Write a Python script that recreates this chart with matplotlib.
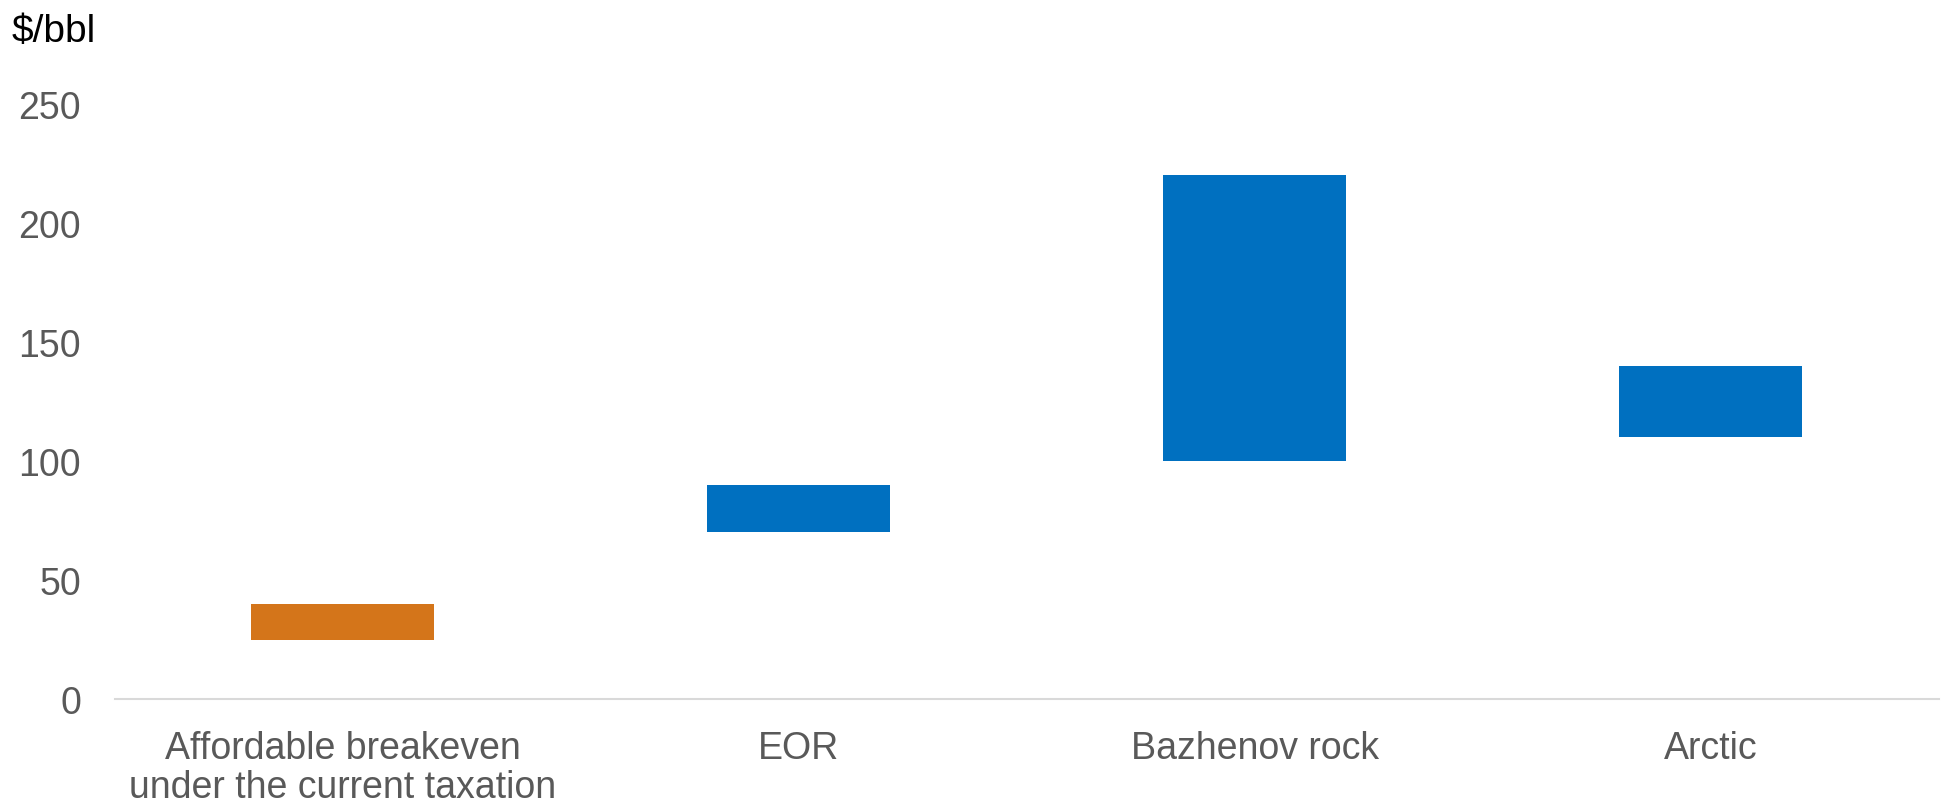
import matplotlib
matplotlib.use("Agg")
import matplotlib.pyplot as plt

categories = ["Affordable breakeven\nunder the current taxation", "EOR", "Bazhenov rock", "Arctic"]
low_values = [25, 70, 100, 110]
high_values = [40, 90, 220, 140]
bar_colors = ["#D4751A", "#0070C0", "#0070C0", "#0070C0"]
y_ticks = [0, 50, 100, 150, 200, 250]

plt.rcParams['font.family'] = ['Liberation Sans', 'DejaVu Sans']

fig = plt.figure(figsize=(19.42, 8.04), dpi=100)
ax = fig.add_axes([114.5 / 1942, 104 / 804, 1824 / 1942, 595 / 804])

x = list(range(len(categories)))
heights = [h - l for h, l in zip(high_values, low_values)]
ax.bar(x, heights, bottom=low_values, width=0.401, color=bar_colors)

ax.set_xlim(-0.5, len(categories) - 0.5)
ax.set_ylim(0, 250)
ax.set_yticks(y_ticks)
ax.set_xticks(x)
ax.set_xticklabels(categories)

for s in ["top", "right", "left"]:
    ax.spines[s].set_visible(False)
ax.spines["bottom"].set_color("#D9D9D9")
ax.spines["bottom"].set_linewidth(1.5)

ax.tick_params(axis="y", length=0, pad=24, labelsize=27, labelcolor="#595959")
ax.tick_params(axis="x", length=0, pad=22, labelsize=27, labelcolor="#595959")
for lbl in ax.get_xticklabels():
    lbl.set_linespacing(1.12)

fig.text(12 / 1942, 1 - 42 / 804, "$/bbl", fontsize=28, color="black", ha="left", va="baseline")

fig.savefig("out.png", dpi=100)
